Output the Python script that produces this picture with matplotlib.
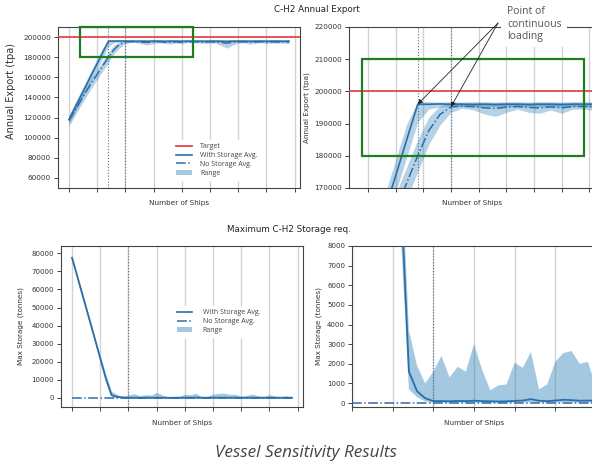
import matplotlib
matplotlib.use('Agg')
import matplotlib.pyplot as plt
from matplotlib.patches import Rectangle, Patch
from matplotlib.lines import Line2D

ships = list(range(10, 50))

export_with_avg = [118000, 129100, 140300, 151400, 162600, 173700, 184900, 196000, 196000, 196100,
                   196000, 196000, 195900, 196000, 195900, 196000, 196000, 195900, 196000, 196000,
                   195900, 196000, 196000, 196000, 195900, 196000, 196000, 195900, 195800, 196000,
                   196000, 196000, 195900, 196000, 196000, 195900, 196000, 196000, 195900, 196000]
export_with_min = [113500, 124500, 135500, 146500, 157500, 168500, 179500, 190500, 194500, 195200,
                   195300, 195300, 195200, 195300, 195200, 195300, 195300, 195200, 195300, 195300,
                   195200, 195300, 195300, 195300, 195200, 195300, 195300, 195200, 195000, 195300,
                   195300, 195300, 195200, 195300, 195300, 195200, 195300, 195300, 195200, 195300]
export_with_max = [122500, 133700, 145000, 156300, 167500, 178700, 189800, 196800, 196800, 196700,
                   196800, 196700, 196800, 196800, 196700, 196800, 196800, 196700, 196800, 196800,
                   196700, 196800, 196800, 196700, 196800, 196800, 196700, 196800, 196800, 196700,
                   196800, 196800, 196700, 196800, 196800, 196700, 196800, 196800, 196700, 196800]
export_no_avg = [117000, 126500, 136000, 145500, 154500, 163000, 171500, 180000, 187800, 192800,
                 195200, 195400, 195300, 194900, 194700, 195100, 195300, 195000, 194900, 195200,
                 194900, 195300, 195300, 195200, 195000, 195200, 195100, 194600, 194000, 194800,
                 195200, 195300, 195000, 195100, 195300, 195000, 195200, 195100, 195200, 195000]
export_no_min = [112000, 121500, 131000, 140500, 149500, 158000, 166500, 175000, 183500, 189500,
                 193500, 194800, 194300, 193000, 192200, 193500, 194500, 193500, 193200, 194200,
                 193200, 194500, 194500, 194000, 193500, 194200, 193800, 191500, 189000, 192000,
                 194000, 194300, 193000, 193800, 194500, 193500, 194200, 193800, 194000, 193500]
export_no_max = [122000, 131500, 141000, 150500, 159500, 168000, 176500, 185000, 192000, 195500,
                 196400, 196500, 196500, 196500, 196500, 196500, 196500, 196500, 196500, 196500,
                 196500, 196500, 196500, 196500, 196500, 196500, 196500, 196500, 196500, 196500,
                 196500, 196500, 196500, 196500, 196500, 196500, 196500, 196500, 196500, 196500]

storage_with_avg = [77500, 66500, 55400, 44300, 33200, 22000, 10800, 1600, 600, 250,
                    100, 100, 90, 110, 100, 120, 100, 90, 80, 90,
                    110, 130, 200, 120, 100, 130, 170, 150, 120, 130,
                    110, 100, 120, 100, 90, 110, 100, 90, 100, 90]
storage_with_min = [76500, 65500, 54300, 43000, 32000, 20500, 8600, 700, 300, 80,
                    30, 20, 20, 30, 20, 30, 20, 20, 10, 20,
                    30, 30, 40, 30, 20, 30, 40, 30, 20, 30,
                    20, 20, 30, 20, 20, 30, 20, 20, 20, 20]
storage_with_max = [78500, 67500, 56500, 45500, 34500, 23500, 13000, 3700, 1900, 1000,
                    1600, 2400, 1300, 1850, 1600, 3000, 1700, 650, 900, 950,
                    2050, 1800, 2600, 700, 950, 2100, 2550, 2650, 2000, 2100,
                    850, 1500, 2200, 1200, 900, 1800, 1100, 700, 1300, 600]
storage_no_avg = [0] * 40

target = 200000
continuous_with = 17
continuous_no = 20

line_c = '#2b6ea8'
band_c = '#1f77b4'
red_c = '#e3474b'
green_c = '#1e7d1e'
note_font = ['Open Sans', 'DejaVu Sans']

W, H = 592, 466
fig = plt.figure(figsize=(W / 100, H / 100), dpi=100)


def box(l, t, r, b):
    return [l / W, 1 - b / H, (r - l) / W, (b - t) / H]


def style(ax, xticks, lab_size):
    ax.set_xticks(xticks)
    ax.set_xticklabels([])
    ax.tick_params(axis='both', labelsize=lab_size, length=3, width=0.7,
                   color='#444444', labelcolor='#333333', pad=2)
    ax.grid(axis='x', color='#d2d2d2', lw=1.0)
    ax.set_axisbelow(True)
    for s in ax.spines.values():
        s.set_color('#444444')
        s.set_linewidth(0.8)
    ax.set_xlabel('Number of Ships', fontsize=5.2, color='#333333')


def export_panel(ax):
    ax.fill_between(ships, export_no_min, export_no_max, color=band_c, alpha=0.33, lw=0)
    ax.fill_between(ships, export_with_min, export_with_max, color=band_c, alpha=0.33, lw=0)
    ax.axhline(target, color=red_c, lw=1.3, zorder=4)
    ax.plot(ships, export_with_avg, '-', color=line_c, lw=1.2, zorder=3)
    ax.plot(ships, export_no_avg, '-.', color=line_c, lw=1.1, zorder=3)
    ax.axvline(continuous_with, color='#4f6f95', lw=0.8, ls=':')
    ax.axvline(continuous_no, color='#4f6f95', lw=0.8, ls=':')
    ax.add_patch(Rectangle((12, 180000), 20, 30000, fill=False, ec=green_c,
                           lw=1.6, zorder=5, clip_on=False))


def storage_panel(ax):
    ax.fill_between(ships, storage_with_min, storage_with_max, color=band_c, alpha=0.4, lw=0)
    ax.plot(ships, storage_with_avg, '-', color=line_c, lw=1.3, zorder=3)
    ax.plot(ships, storage_no_avg, '-.', color=line_c, lw=1.1, zorder=3)
    ax.axvline(continuous_no, color='#4f6f95', lw=0.8, ls=':')


# top left
ax_tl = fig.add_axes(box(58, 27, 300, 188))
export_panel(ax_tl)
ax_tl.set_xlim(8.05, 50.95)
ax_tl.set_ylim(50000, 210000)
ax_tl.set_yticks(range(60000, 200001, 20000))
style(ax_tl, range(10, 51, 5), 5.2)
ax_tl.set_ylabel('Annual Export (tpa)', fontsize=7, color='#333333')
ax_tl.yaxis.set_label_coords(-0.175, 0.6)

handles = [Line2D([], [], color=red_c, lw=1.3),
           Line2D([], [], color=line_c, lw=1.2),
           Line2D([], [], color=line_c, lw=1.1, ls='-.'),
           Patch(color=band_c, alpha=0.4, lw=0)]
ax_tl.legend(handles, ['Target', 'With Storage Avg.', 'No Storage Avg.', 'Range'],
             loc='upper left', bbox_to_anchor=(0.46, 0.32), frameon=True,
             framealpha=1, edgecolor='white', fancybox=False,
             prop={'family': note_font, 'size': 5}, labelcolor='#444444',
             handlelength=2.2, handletextpad=1.2, labelspacing=0.25, borderpad=0.5)

# top right
ax_tr = fig.add_axes(box(349, 27, 595, 188))
export_panel(ax_tr)
ax_tr.set_xlim(10.8, 33.0)
ax_tr.set_ylim(170000, 220000)
ax_tr.set_yticks(range(170000, 220001, 10000))
style(ax_tr, [12.5, 15, 17.5, 20, 22.5, 25, 27.5, 30, 32.5], 5.2)
ax_tr.set_ylabel('Annual Export (tpa)', fontsize=5.2, color='#333333')
ax_tr.yaxis.set_label_coords(-0.16, 0.5)

# bottom left
ax_bl = fig.add_axes(box(61, 246, 303, 407))
storage_panel(ax_bl)
ax_bl.set_xlim(8.05, 50.95)
ax_bl.set_ylim(-5000, 84000)
ax_bl.set_yticks(range(0, 80001, 10000))
style(ax_bl, range(10, 51, 5), 5)
ax_bl.set_ylabel('Max Storage (tonnes)', fontsize=5.2, color='#333333')
ax_bl.yaxis.set_label_coords(-0.153, 0.5)
ax_bl.legend(handles[1:], ['With Storage Avg.', 'No Storage Avg.', 'Range'],
             loc='upper left', bbox_to_anchor=(0.45, 0.65), frameon=True,
             framealpha=1, edgecolor='white', fancybox=False,
             prop={'family': note_font, 'size': 5}, labelcolor='#444444',
             handlelength=2.2, handletextpad=1.5, labelspacing=0.25, borderpad=0.5)

# bottom right
ax_br = fig.add_axes(box(352, 246, 596, 407))
storage_panel(ax_br)
ax_br.set_xlim(10, 40)
ax_br.set_ylim(-200, 8000)
ax_br.set_yticks(range(0, 8001, 1000))
style(ax_br, range(10, 41, 5), 5)
ax_br.set_ylabel('Max Storage (tonnes)', fontsize=5.2, color='#333333')
ax_br.yaxis.set_label_coords(-0.123, 0.5)

fig.text(317 / W, 1 - 10 / H, 'C-H2 Annual Export', ha='center', va='center',
         fontsize=6.3, color='#222222')
fig.text(289 / W, 1 - 229 / H, 'Maximum C-H2 Storage req.', ha='center', va='center',
         fontsize=6.3, color='#222222')

# note with arrows
fig.text(507 / W, 1 - 6.5 / H, 'Point of\ncontinuous\nloading', ha='left', va='top',
         fontsize=7.5, color='#555555', family=note_font, linespacing=1.15,
         bbox=dict(facecolor='white', edgecolor='none', pad=4), zorder=10)
for xk, yk in [(continuous_with, export_with_avg[ships.index(continuous_with)]),
               (continuous_no, export_no_avg[ships.index(continuous_no)])]:
    ax_tr.annotate('', xy=(xk, yk), xycoords='data',
                   xytext=(498 / W, 1 - 23 / H), textcoords='figure fraction',
                   arrowprops=dict(arrowstyle='-|>', color='#222222', lw=0.6,
                                   mutation_scale=7, shrinkA=0, shrinkB=0),
                   annotation_clip=False, zorder=11)

fig.text(306 / W, 1 - 453 / H, 'Vessel Sensitivity Results', ha='center', va='center',
         fontsize=12.3, style='italic', color='#444444', family=note_font)

fig.savefig('out.png', dpi=100)
